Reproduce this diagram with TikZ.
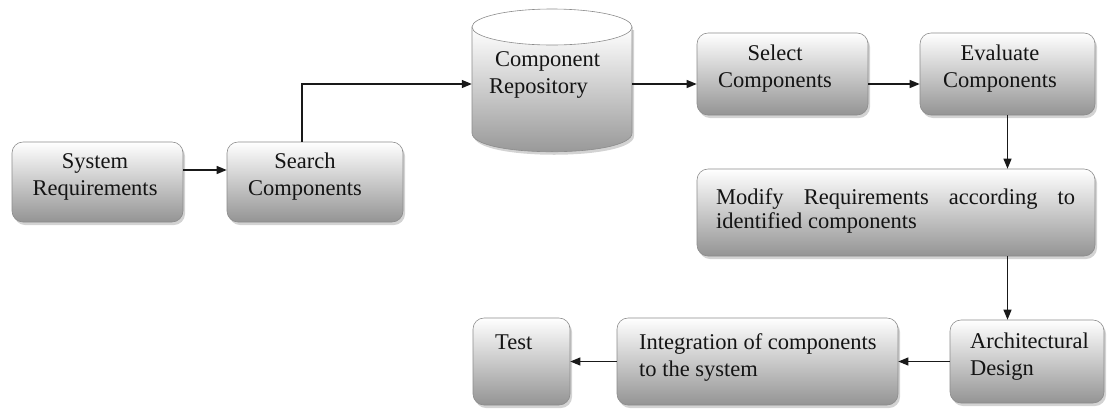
\documentclass[tikz,border=0pt]{standalone}
\usepackage{fontspec}
\setmainfont{Liberation Serif}
\usetikzlibrary{arrows.meta,shadows,calc}
\hyphenpenalty=10000
\begin{document}
\begin{tikzpicture}[x=1pt,y=-1pt,
  box/.style={draw=black!45, line width=0.6pt, rounded corners=11pt, top color=white, bottom color=black!42,
    drop shadow={shadow xshift=2pt, shadow yshift=-3pt, opacity=0.35}, inner sep=0pt},
  lbl/.style={font=\fontsize{22.5}{27}\selectfont, text=black!92, inner sep=0pt, align=center},
  arr/.style={-{Triangle[length=10pt,width=8pt]}, line width=1.2pt, draw=black!90}]
\useasboundingbox (0,0) rectangle (1108,408);

% boxes
\node[box, minimum width=171pt, minimum height=80pt] (sysreq) at (97.5,182) {};
\node[box, minimum width=176pt, minimum height=80pt] (search) at (315,182) {};
\node[box, minimum width=171pt, minimum height=82pt] (select) at (782.5,74) {};
\node[box, minimum width=175pt, minimum height=82pt] (eval) at (1007.5,74) {};
\node[box, minimum width=398pt, minimum height=87pt] (modify) at (896,212.5) {};
\node[box, minimum width=154pt, minimum height=83pt] (arch) at (1027,361.5) {};
\node[box, minimum width=281pt, minimum height=87pt] (integ) at (757.5,361.5) {};
\node[box, minimum width=97pt, minimum height=87pt] (test) at (521.5,361.5) {};

% cylinder
\path[draw=black!45, line width=0.6pt, top color=white, bottom color=black!42,
  drop shadow={shadow xshift=2pt, shadow yshift=-3pt, opacity=0.35}]
  (472,27) -- (472,133) .. controls (472,158) and (632,158) .. (632,133) -- (632,27) -- cycle;
\draw[draw=black!45, line width=0.6pt, fill=white] (552,27) ellipse [x radius=80, y radius=18];
\node[minimum width=160pt, minimum height=148pt, inner sep=0pt] (repo) at (552,84) {};

% labels
\node[lbl] (tsys) at (95,177) {System\\Requirements};
\node[lbl] (tsearch) at (305,177) {Search\\Components};
\node[lbl, anchor=west, align=left] (trepo) at (489,75) {\hspace{6pt}Component\\Repository};
\node[lbl] (tselect) at (775,68.5) {Select\\Components};
\node[lbl] (teval) at (1000,68.5) {Evaluate\\Components};
\node[lbl, anchor=west, align=justify, text width=359pt, font=\fontsize{22.5}{24}\selectfont] (tmodify) at (716,211) {Modify Requirements according to identified components};
\node[lbl, anchor=west, align=left] (tarch) at (970,356.5) {Architectural\\Design};
\node[lbl, anchor=west, align=left] (tinteg) at (639,357.5) {Integration of components\\to the system};
\node[lbl, anchor=west, align=left] (ttest) at (495,342) {Test};

% connectors
\draw[arr] ([yshift=12pt]sysreq.east) -- ([yshift=12pt]search.west);
\draw[arr] ([xshift=-13pt]search.north) |- (repo.west);
\draw[arr] (repo.east) -- (repo.east -| select.west);
\draw[arr] ([yshift=-10pt]select.east) -- ([yshift=-10pt]eval.west);
\draw[arr] (eval.south) -- (eval.south |- modify.north);
\draw[arr] (modify.south -| eval.south) -- (arch.north -| eval.south);
\draw[arr] (arch.west) -- (arch.west -| integ.east);
\draw[arr] (integ.west |- arch.west) -- (test.east |- arch.west);
\end{tikzpicture}
\end{document}
